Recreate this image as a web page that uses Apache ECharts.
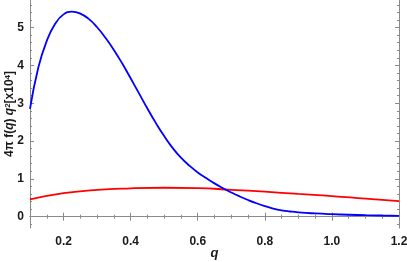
<!DOCTYPE html>
<html><head><meta charset="utf-8">
<script src="https://cdn.jsdelivr.net/npm/echarts@6/dist/echarts.min.js"></script>
<style>html,body{margin:0;padding:0;background:#fff}#c{width:407px;height:262px}</style>
</head><body><div id="c"></div>
<script>
const blueQ = [0.1,0.125,0.15,0.175,0.2,0.225,0.25,0.275,0.3,0.325,0.35,0.375,0.4,0.425,0.45,0.475,0.5,0.525,0.55,0.575,0.6,0.625,0.65,0.675,0.7,0.725,0.75,0.775,0.8,0.825,0.85,0.875,0.9,0.95,1.0,1.05,1.1,1.15,1.2];
const blueV = [2.85,3.95,4.65,5.10,5.35,5.42,5.37,5.23,5.01,4.73,4.41,4.05,3.66,3.26,2.86,2.48,2.13,1.82,1.56,1.35,1.17,1.02,0.88,0.755,0.64,0.535,0.44,0.355,0.28,0.215,0.167,0.136,0.113,0.085,0.065,0.05,0.038,0.03,0.022];
const redQ = [0.1,0.2,0.3,0.4,0.5,0.6,0.7,0.8,0.9,1.0,1.1,1.2];
const redV = [0.455,0.62,0.71,0.75,0.765,0.755,0.71,0.66,0.60,0.545,0.475,0.41];
const xMajor = [0.2,0.4,0.6,0.8,1.0,1.2];
const xMinor = [0.15,0.25,0.3,0.35,0.45,0.5,0.55,0.65,0.7,0.75,0.85,0.9,0.95,1.05,1.1,1.15];
const yMajor = [0,1,2,3,4,5];
const yMinor = [-0.2,0.2,0.4,0.6,0.8,1.2,1.4,1.6,1.8,2.2,2.4,2.6,2.8,3.2,3.4,3.6,3.8,4.2,4.4,4.6,4.8,5.2,5.4,5.6];
const xName = '{i|q}';
const yName = '{a|4π f(}{i|q}{a|) }{i|q}{s|2}{a|[x10}{s|4}{a|]}';

const X0=0.1, X1=1.2, Y0=-0.3, Y1=5.73;
const frame = '#8a8a8a';
const FF = 'Liberation Sans, Arial, sans-serif';
const lbl = {color:'#1a1a1a', fontWeight:'bold', fontSize:12, fontFamily:FF};
const gridRect = {left:30, right:8, top:0, bottom:34, containLabel:false, outerBoundsMode:'none'};
function xa(grid, pos, vals, len, show, labels){
  return {type:'value', gridIndex:grid, position:pos, min:X0, max:X1,
    axisLine:{show:show, lineStyle:{color:frame, width:1}},
    axisTick:{show:true, inside:true, length:len, customValues:vals, lineStyle:{color:frame}},
    axisLabel:labels?Object.assign({show:true, customValues:xMajor, margin:8, formatter:v=>v.toFixed(1)}, lbl):{show:false},
    splitLine:{show:false}};
}
function ya(grid, pos, vals, len, show, labels){
  return {type:'value', gridIndex:grid, position:pos, min:Y0, max:Y1,
    axisLine:{show:show, lineStyle:{color:frame, width:1}},
    axisTick:{show:true, inside:true, length:len, customValues:vals, lineStyle:{color:frame}},
    axisLabel:labels?Object.assign({show:true, customValues:yMajor, margin:6, formatter:v=>String(v)}, lbl):{show:false},
    splitLine:{show:false}};
}
const rich = {
  a:{fontWeight:'bold', fontSize:12, color:'#1a1a1a', fontFamily:FF},
  i:{fontWeight:'bold', fontStyle:'italic', fontSize:12, color:'#1a1a1a', fontFamily:FF},
  s:{fontWeight:'bold', fontSize:8, color:'#1a1a1a', fontFamily:FF, verticalAlign:'top'}
};
const xAxes=[xa(0,'bottom',xMajor,4,true,true), xa(0,'top',xMajor,4,true,false), xa(1,'bottom',xMinor,2,false,false), xa(1,'top',xMinor,2,false,false)];
Object.assign(xAxes[0], {name:xName, nameLocation:'middle', nameGap:19, nameMoveOverlap:false,
  nameTextStyle:{rich:{i:{fontStyle:'italic', fontWeight:'bold', fontSize:13, color:'#1a1a1a', fontFamily:FF}}}});
const yAxes=[ya(0,'left',yMajor,4,true,true), ya(0,'right',yMajor,4,true,false), ya(1,'left',yMinor,2,false,false), ya(1,'right',yMinor,2,false,false)];
Object.assign(yAxes[0], {name:yName, nameLocation:'middle', nameGap:14, nameRotate:90, nameMoveOverlap:false,
  nameTextStyle:{rich:rich}});

const chart = echarts.init(document.getElementById('c'), null, {renderer:'canvas'});
chart.setOption({
  animation:false,
  grid:[gridRect, Object.assign({}, gridRect)],
  xAxis:xAxes, yAxis:yAxes,
  series:[
    {type:'line', xAxisIndex:0, yAxisIndex:0, data:redQ.map((q,i)=>[q,redV[i]]), smooth:0.5, showSymbol:false, lineStyle:{color:'#ff0000', width:1.8}},
    {type:'line', xAxisIndex:0, yAxisIndex:0, data:blueQ.map((q,i)=>[q,blueV[i]]), smooth:0.5, showSymbol:false, lineStyle:{color:'#0000ff', width:1.8}}
  ]
});
</script></body></html>
